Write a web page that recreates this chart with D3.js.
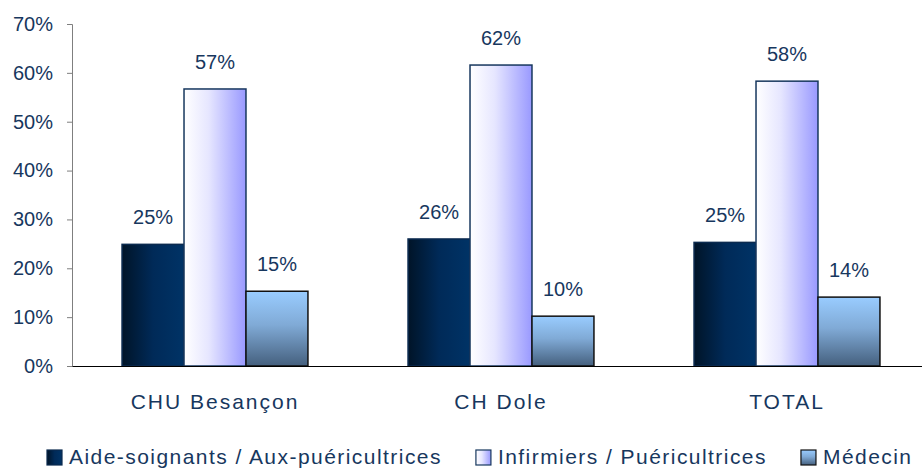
<!DOCTYPE html>
<html>
<head>
<meta charset="utf-8">
<script src="https://cdn.jsdelivr.net/npm/d3@7"></script>
<style>
  body { margin: 0; background: #fff; }
  svg { display: block; font-family: "Liberation Sans", Arial, sans-serif; }
</style>
</head>
<body>
<svg width="922" height="468"></svg>
<script>
// chart values
var categories = ["CHU Besançon", "CH Dole", "TOTAL"];
var seriesNames = ["Aide-soignants / Aux-puéricultrices", "Infirmiers / Puéricultrices", "Médecin"];
var aideSoignants = [24.9, 26.0, 25.3];
var infirmiers = [56.7, 61.6, 58.3];
var medecins = [15.3, 10.2, 14.1];
var yTicks = [0, 10, 20, 30, 40, 50, 60, 70];

var textColor = "#17375e";

var svg = d3.select("svg"),
    width = +svg.attr("width"),
    height = +svg.attr("height");

// plot area runs a little past the right edge, as in the original
var marginLeft = 72, plotRight = 930, plotTop = 24, plotBottom = 366;

var defs = svg.append("defs");

function grad(id, x2, y2, stops) {
    var g = defs.append("linearGradient").attr("id", id)
        .attr("x1", 0).attr("y1", 0).attr("x2", x2).attr("y2", y2);
    stops.forEach(function(s) {
        g.append("stop").attr("offset", s[0]).attr("stop-color", s[1]);
    });
}
grad("g0", 1, 0, [[0, "#001428"], [0.5, "#002a58"], [1, "#003366"]]);
grad("g1", 1, 0, [[0, "#ffffff"], [0.4, "#e6e6ff"], [1, "#9999ff"]]);
grad("g2", 0, 1, [[0, "#99ccff"], [0.45, "#80aad6"], [1, "#45607e"]]);

var fills = ["url(#g0)", "url(#g1)", "url(#g2)"];
var strokes = ["#0b2a4f", "#17375e", "#111111"];

var rows = categories.map(function(c, i) {
    return { cat: c, values: [aideSoignants[i], infirmiers[i], medecins[i]] };
});

var x0 = d3.scaleBand()
    .domain(categories)
    .range([marginLeft, plotRight])
    .paddingInner(0.35)
    .paddingOuter(0.175);

var x1 = d3.scaleBand()
    .domain(d3.range(seriesNames.length))
    .range([0, x0.bandwidth()]);

var y = d3.scaleLinear()
    .domain([0, 70])
    .range([plotBottom, plotTop]);

// y axis
var yAxis = svg.append("g")
    .attr("transform", "translate(" + marginLeft + ",0)")
    .call(d3.axisLeft(y).tickValues(yTicks).tickSize(5).tickPadding(14)
        .tickFormat(function(d) { return d + "%"; }));
yAxis.select(".domain").attr("stroke", "#7f7f7f");
yAxis.selectAll(".tick line").attr("stroke", "#7f7f7f");
yAxis.selectAll("text")
    .attr("fill", textColor)
    .attr("font-size", "20px")
    .attr("font-family", "Liberation Sans, Arial, sans-serif");

// bars
var groups = svg.selectAll(".grp")
    .data(rows)
    .enter().append("g")
    .attr("class", "grp")
    .attr("transform", function(d) { return "translate(" + x0(d.cat) + ",0)"; });

groups.selectAll("rect")
    .data(function(d) { return d.values; })
    .enter().append("rect")
    .attr("x", function(d, i) { return x1(i); })
    .attr("y", function(d) { return y(d); })
    .attr("width", x1.bandwidth())
    .attr("height", function(d) { return y(0) - y(d); })
    .attr("fill", function(d, i) { return fills[i]; })
    .attr("stroke", function(d, i) { return strokes[i]; })
    .attr("stroke-width", 1.5);

groups.selectAll(".lbl")
    .data(function(d) { return d.values; })
    .enter().append("text")
    .attr("class", "lbl")
    .attr("x", function(d, i) { return x1(i) + x1.bandwidth() / 2; })
    .attr("y", function(d) { return y(d) - 20; })
    .attr("text-anchor", "middle")
    .attr("fill", textColor)
    .attr("font-size", "20px")
    .text(function(d) { return Math.round(d) + "%"; });

// baseline / category axis
var xAxis = svg.append("g")
    .attr("transform", "translate(0," + plotBottom + ")")
    .call(d3.axisBottom(x0).tickSize(0).tickPadding(0));
xAxis.select(".domain").attr("stroke", "#000").attr("stroke-width", 1.2);
xAxis.selectAll("text")
    .attr("dy", 0)
    .attr("y", 43)
    .attr("fill", textColor)
    .attr("font-size", "21px")
    .attr("letter-spacing", "2px")
    .attr("font-family", "Liberation Sans, Arial, sans-serif");

// legend
var legend = svg.append("g").attr("transform", "translate(47,450)");
var lx = 0;
seriesNames.forEach(function(name, i) {
    var item = legend.append("g").attr("transform", "translate(" + lx + ",0)");
    item.append("rect")
        .attr("width", 15).attr("height", 15)
        .attr("fill", fills[i])
        .attr("stroke", strokes[i])
        .attr("stroke-width", 1.2);
    var t = item.append("text")
        .attr("x", 22)
        .attr("y", 14)
        .attr("fill", textColor)
        .attr("font-size", "21px")
        .attr("letter-spacing", "1.45px")
        .text(name);
    lx += 22 + t.node().getComputedTextLength() + 34;
});
</script>
</body>
</html>
